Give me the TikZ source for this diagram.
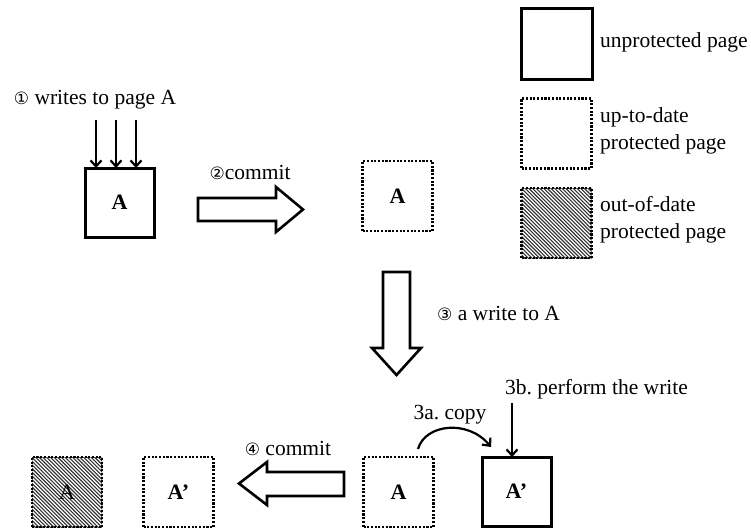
\documentclass[tikz,border=0pt]{standalone}
\usepackage{fontspec}
\setmainfont{Liberation Serif}
\newfontfamily\symfont{DejaVu Sans}
\newcommand\csym[1]{{\symfont\fontsize{17}{20}\selectfont #1}}
\usetikzlibrary{arrows.meta,calc}
\tikzset{
 lbl/.style={font=\fontsize{21.5}{27}\selectfont\frenchspacing, inner sep=0pt},
 page/.style={minimum size=69pt, inner sep=0pt, outer sep=0pt, font=\fontsize{22}{26}\selectfont\bfseries},
 unprot/.style={page, draw, line width=3pt},
 prot/.style={page, draw, line width=2.2pt, dash pattern=on 2.1pt off 1.6pt, minimum size=70pt},
 stale/.style={prot, font=\fontsize{22}{26}\selectfont, path picture={
   \foreach \i in {0,...,38}
     \draw[solid, line width=1.1pt, black!80] ($(path picture bounding box.north west)+(\i*3.7-72,-5)$) -- ++(85,85);
   }},
 wr/.style={line width=2.2pt, -{Straight Barb[length=6pt,width=11pt,line width=2.2pt]}},
 blockarrow/.style={draw, line width=2.6pt, fill=white, line join=miter},
}
\begin{document}
\begin{tikzpicture}[x=1pt,y=-1pt]
\useasboundingbox (0,0) rectangle (751,528);
% legend
\node[unprot, minimum size=71pt] (L1) at (556.5,44) {};
\node[prot] (L2) at (556.5,133.5) {};
\node[stale] (L3) at (556.5,223) {};
\node[lbl, anchor=west] (L1t) at (600,42) {unprotected page};
\node[lbl, anchor=west, align=left] (L2t) at (600,131) {up-to-date\\protected page};
\node[lbl, anchor=west, align=left] (L3t) at (600,220) {out-of-date\\protected page};
% step 1
\node[lbl] (t1) at (95,100) {\csym{①} writes to page A};
\node[unprot] (A1) at (119.5,202.5) {A};
\coordinate (w1) at (96,120);
\coordinate (w2) at (116,120);
\coordinate (w3) at (136,120);
\draw[wr] (w1) -- (w1 |- A1.north);
\draw[wr] (w2) -- (w2 |- A1.north);
\draw[wr] (w3) -- (w3 |- A1.north);
% step 2
\node[lbl] (t2) at (250,172) {\csym{②}commit};
\draw[blockarrow] (198,198) -- (276,198) -- (276,187) -- (303,209.5) -- (276,232) -- (276,221) -- (198,221) -- cycle;
\node[prot] (A2) at (397.5,196) {A};
% step 3
\draw[blockarrow] (383,272) -- (410,272) -- (410,348) -- (421,348) -- (396.5,375) -- (372,348) -- (383,348) -- cycle;
\node[lbl, anchor=west] (t3) at (437,313) {\csym{③} a write to A};
\node[prot] (A3) at (398.5,492) {A};
\node[unprot] (A4) at (516.5,491.5) {A’};
\node[lbl] (t3a) at (450,415) {3a. copy};
\node[lbl, anchor=west] (t3b) at (505,389) {3b. perform the write};
\coordinate (c1) at (418,449);
\coordinate (c2) at (491,447);
\draw[wr] (c1) .. controls (425,424) and (468,419) .. (c2);
\coordinate (w4) at (512,403);
\draw[wr] (w4) -- (w4 |- A4.north);
% step 4
\node[lbl] (t4) at (288,448) {\csym{④} commit};
\draw[blockarrow] (344,472) -- (267,472) -- (267,462) -- (239,483.5) -- (267,505) -- (267,496) -- (344,496) -- cycle;
\node[prot] (A5) at (178.5,492) {A’};
\node[stale] (A6) at (67,492) {A};
\end{tikzpicture}
\end{document}
